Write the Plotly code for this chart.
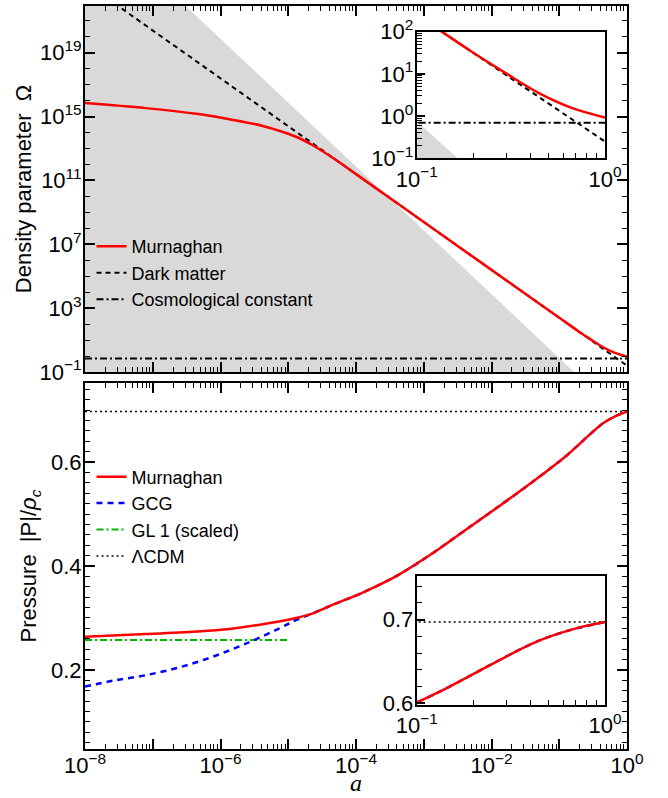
import plotly.graph_objects as go

# ---------------- data ----------------
# Top panel: density parameter Omega vs scale factor a
murn_a = [1e-8, 7.9e-8, 4.4e-7, 1.35e-6, 4.2e-6, 1.3e-5, 2.3e-5, 5.8e-5,
          1e-4, 1e-3, 1e-2, 0.1, 0.136, 0.196, 0.294, 0.443, 0.665, 1.0]
murn_omega = [7.1e15, 3.4e15, 1.5e15, 6.9e14, 2.6e14, 5.5e13, 1.6e13, 1.3e12,
              2.5e11, 2.5e8, 2.5e5, 251.0, 100.0, 33.6, 10.7, 3.56, 1.57, 0.93]
dm_a = [1e-8, 1.0]
dm_omega = [2.5e23, 0.25]
cc_a = [1e-8, 1.0]
cc_omega = [0.7, 0.7]
rad_a = [1e-8, 1.0]
rad_omega = [7.5e27, 7.5e-5]

# Bottom panel: pressure |P|/rho_c vs a
pm_a = [1e-8, 7.9e-8, 4.4e-7, 1.35e-6, 4.2e-6, 1.3e-5, 2.3e-5, 4.1e-5, 5.8e-5,
        1.26e-4, 4e-4, 1.23e-3, 3.8e-3, 1.2e-2, 3.7e-2, 0.1, 0.13, 0.196,
        0.294, 0.443, 0.665, 1.0]
pm_p = [0.264, 0.269, 0.274, 0.279, 0.288, 0.300, 0.309, 0.323, 0.331,
        0.349, 0.381, 0.421, 0.466, 0.512, 0.558, 0.601, 0.613, 0.634,
        0.655, 0.6745, 0.688, 0.697]
gcg_a = [1e-8, 2.6e-8, 7.9e-8, 2.45e-7, 7.7e-7, 2.4e-6, 7.4e-6, 1.3e-5, 2.3e-5,
         4.1e-5, 5.8e-5, 1.26e-4, 4e-4, 1.23e-3, 3.8e-3, 1.2e-2, 3.7e-2, 0.1,
         0.13, 0.196, 0.294, 0.443, 0.665, 1.0]
gcg_p = [0.168, 0.1795, 0.190, 0.205, 0.2255, 0.251, 0.280, 0.296, 0.309,
         0.323, 0.331, 0.349, 0.381, 0.421, 0.466, 0.512, 0.558, 0.601,
         0.613, 0.634, 0.655, 0.6745, 0.688, 0.697]
gl1_a = [1e-8, 1e-5]
gl1_p = [0.2576, 0.2576]
lcdm_a = [1e-8, 1.0]
lcdm_p = [0.697, 0.697]

# tick definitions
x_decades = [10.0 ** k for k in range(-8, 1)]
x_labels = {-8: "10<sup>−8</sup>", -6: "10<sup>−6</sup>", -4: "10<sup>−4</sup>",
            -2: "10<sup>−2</sup>", 0: "10<sup>0</sup>"}
x_ticktext = [x_labels.get(k, "") for k in range(-8, 1)]
x_minor = [m * 10.0 ** k for k in range(-8, 0) for m in range(2, 10)]
omega_major = [10.0 ** k for k in (-1, 3, 7, 11, 15, 19)]
omega_major_text = ["10<sup>−1</sup>", "10<sup>3</sup>", "10<sup>7</sup>",
                    "10<sup>11</sup>", "10<sup>15</sup>", "10<sup>19</sup>"]
omega_minor = [10.0 ** k for k in range(-1, 23)]
inset_x_minor = [m * 0.1 for m in range(2, 10)]
inset_y_minor = [m * 10.0 ** k for k in range(-1, 2) for m in range(2, 10)]

GRAY = "rgb(217,217,217)"
FONT = "Liberation Sans, Arial, sans-serif"

fig = go.Figure()

# ---------------- top panel ----------------
for xa, ya in (("x", "y"), ("x3", "y3")):
    fig.add_trace(go.Scatter(
        x=[rad_a[0]] + rad_a + [rad_a[-1]],
        y=[1e-6] + rad_omega + [1e-6],
        fill="toself", fillcolor=GRAY, line=dict(width=0), mode="lines",
        showlegend=False, hoverinfo="skip", xaxis=xa, yaxis=ya))
    first = xa == "x"
    fig.add_trace(go.Scatter(
        x=dm_a, y=dm_omega, mode="lines", name="Dark matter",
        line=dict(color="black", width=2, dash="5px,4px"),
        showlegend=first, legend="legend", legendrank=2, xaxis=xa, yaxis=ya))
    fig.add_trace(go.Scatter(
        x=cc_a, y=cc_omega, mode="lines", name="Cosmological constant",
        line=dict(color="black", width=2, dash="7px,3px,2px,3px"),
        showlegend=first, legend="legend", legendrank=3, xaxis=xa, yaxis=ya))
    fig.add_trace(go.Scatter(
        x=murn_a, y=murn_omega, mode="lines", name="Murnaghan",
        line=dict(color="red", width=2.5, shape="spline", smoothing=1.0),
        showlegend=first, legend="legend", legendrank=1, xaxis=xa, yaxis=ya))

# ---------------- bottom panel ----------------
for xa, ya in (("x2", "y2"), ("x4", "y4")):
    first = xa == "x2"
    fig.add_trace(go.Scatter(
        x=lcdm_a, y=lcdm_p, mode="lines", name="ΛCDM",
        line=dict(color="black", width=1.5, dash="2px,3px"),
        showlegend=first, legend="legend2", legendrank=4, xaxis=xa, yaxis=ya))
    if first:
        fig.add_trace(go.Scatter(
            x=gl1_a, y=gl1_p, mode="lines", name="GL 1 (scaled)",
            line=dict(color="rgb(0,180,0)", width=2, dash="7px,3px,2px,3px"),
            showlegend=True, legend="legend2", legendrank=3, xaxis=xa, yaxis=ya))
    fig.add_trace(go.Scatter(
        x=gcg_a, y=gcg_p, mode="lines", name="GCG",
        line=dict(color="blue", width=2.5, dash="6px,5px", shape="spline", smoothing=1.0),
        showlegend=first, legend="legend2", legendrank=2, xaxis=xa, yaxis=ya))
    fig.add_trace(go.Scatter(
        x=pm_a, y=pm_p, mode="lines", name="Murnaghan",
        line=dict(color="red", width=2.5, shape="spline", smoothing=1.0),
        showlegend=first, legend="legend2", legendrank=1, xaxis=xa, yaxis=ya))

axis_common = dict(showline=True, linecolor="black", linewidth=2,
                   ticks="inside", tickcolor="black", tickwidth=1.5,
                   showgrid=False, zeroline=False, automargin=False,
                   tickfont=dict(family=FONT, size=22, color="black"))

minor_common = dict(ticks="inside", ticklen=5, tickwidth=1.3, tickcolor="black",
                    showgrid=False)

fig.update_layout(
    width=668, height=798,
    margin=dict(l=85, r=41, t=6, b=49),
    paper_bgcolor="white", plot_bgcolor="white",
    font=dict(family=FONT, color="black"),
    xaxis=dict(type="log", range=[-8, 0], domain=[0, 1], anchor="y",
               tickmode="array", tickvals=x_decades, ticktext=x_ticktext,
               showticklabels=False, ticklen=10, mirror="allticks",
               minor=dict(tickvals=x_minor, **minor_common), **axis_common),
    yaxis=dict(type="log", range=[-1, 21.93], domain=[0.5074, 1], anchor="x",
               tickmode="array", tickvals=omega_major, ticktext=omega_major_text,
               ticklen=10, mirror="allticks", ticklabelstandoff=-3,
               minor=dict(tickvals=omega_minor, **minor_common),
               title=dict(text="Density parameter  Ω", standoff=2,
                          font=dict(family=FONT, size=22)),
               **axis_common),
    xaxis2=dict(type="log", range=[-8, 0], domain=[0, 1], anchor="y2",
                tickmode="array", tickvals=x_decades, ticktext=x_ticktext,
                ticklen=10, mirror="allticks", ticklabelstandoff=-4,
                minor=dict(tickvals=x_minor, **minor_common),
                **axis_common),
    yaxis2=dict(range=[0.048, 0.752], domain=[0, 0.4926], anchor="x2",
                tickmode="array", tickvals=[0.2, 0.4, 0.6],
                ticktext=["0.2", "0.4", "0.6"], ticklen=10, mirror="allticks",
                ticklabelstandoff=-3,
                minor=dict(tick0=0.0, dtick=0.02, **minor_common),
                title=dict(text="Pressure  |P|/<i>ρ<sub>c</sub></i>", standoff=8,
                           font=dict(family=FONT, size=22)),
                **axis_common),
    xaxis3=dict(type="log", range=[-1, 0], domain=[0.612, 0.9594], anchor="y3",
                tickmode="array", tickvals=[0.1, 1.0],
                ticktext=["10<sup>−1</sup>", "10<sup>0</sup>"], ticklen=8,
                mirror=True, minor=dict(tickvals=inset_x_minor, **minor_common),
                **axis_common),
    yaxis3=dict(type="log", range=[-1, 2], domain=[0.795, 0.9654], anchor="x3",
                tickmode="array", tickvals=[0.1, 1, 10, 100],
                ticktext=["10<sup>−1</sup>", "10<sup>0</sup>", "10<sup>1</sup>",
                          "10<sup>2</sup>"], ticklen=8, ticklabelstandoff=-3,
                mirror=True, minor=dict(tickvals=inset_y_minor, **minor_common),
                **axis_common),
    xaxis4=dict(type="log", range=[-1, 0], domain=[0.612, 0.9594], anchor="y4",
                tickmode="array", tickvals=[0.1, 1.0],
                ticktext=["10<sup>−1</sup>", "10<sup>0</sup>"], ticklen=8,
                mirror=True, minor=dict(tickvals=inset_x_minor, **minor_common),
                **axis_common),
    yaxis4=dict(range=[0.598, 0.752], domain=[0.0592, 0.2328], anchor="x4",
                tickmode="array", tickvals=[0.6, 0.7], ticktext=["0.6", "0.7"],
                ticklen=8, mirror=True, ticklabelstandoff=-3,
                minor=dict(tick0=0.0, dtick=0.02, **minor_common),
                **axis_common),
    legend=dict(x=0.012, y=0.701, xanchor="left", yanchor="top",
                bgcolor="rgba(0,0,0,0)", itemwidth=30, tracegroupgap=0,
                font=dict(family=FONT, size=18, color="black")),
    legend2=dict(x=0.012, y=0.391, xanchor="left", yanchor="top",
                 bgcolor="rgba(0,0,0,0)", itemwidth=30, tracegroupgap=0,
                 font=dict(family=FONT, size=18, color="black")),
    annotations=[dict(text="<i>a</i>", xref="paper", yref="paper",
                      x=0.5, y=-0.066, xanchor="center", yanchor="bottom",
                      yshift=0, showarrow=False,
                      font=dict(family="Liberation Serif, serif", size=24,
                                color="black"))],
)

fig.write_html("out.html")
